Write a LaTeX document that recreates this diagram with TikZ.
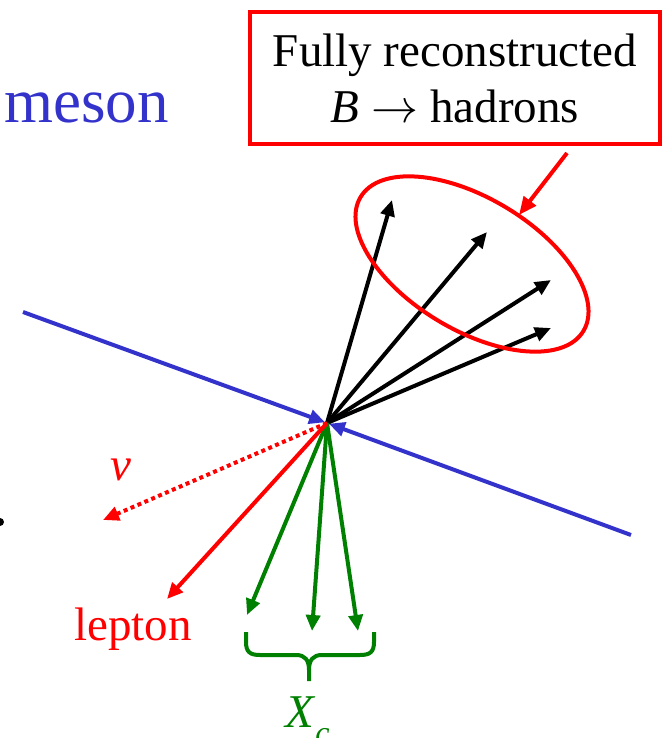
\RequirePackage{fix-cm}
\documentclass[tikz,border=0pt]{standalone}
\usepackage{fontspec}
\setmainfont{Liberation Serif}
\usetikzlibrary{arrows.meta}
\definecolor{myblue}{RGB}{51,51,204}
\definecolor{mygreen}{RGB}{0,128,0}
\definecolor{myred}{RGB}{255,0,0}
\begin{document}
\begin{tikzpicture}[x=1pt,y=-1pt,
  trk/.style={line width=4pt, -{Triangle[length=16pt,width=14pt]}},
  lbl/.style={inner sep=0pt, anchor=base},
  bigfont/.style={font=\fontsize{47}{56}\selectfont}]
\useasboundingbox (0,0) rectangle (664,738);
% coordinates
\coordinate (V) at (327,423);
\coordinate (BL) at (23,312);
\coordinate (BR) at (631,535);
\coordinate (T1) at (392,200);
\coordinate (T2) at (487,232);
\coordinate (T3) at (551,280);
\coordinate (T4) at (551,328);
\coordinate (G1) at (247,615);
\coordinate (G2) at (312,631);
\coordinate (G3) at (358,631);
\coordinate (L) at (167,599);
\coordinate (N) at (103,520);
\coordinate (E) at (472,264);
\coordinate (RS) at (567,153);
\coordinate (RE) at (519,215);
% blue beam line
\draw[trk, myblue, shorten >=2pt] (BL) -- (V);
\draw[trk, myblue, shorten >=2pt] (BR) -- (V);
% black tracks
\foreach \t in {T1,T2,T3,T4} \draw[trk, black] (V) -- (\t);
% green tracks
\foreach \t in {G1,G2,G3} \draw[trk, mygreen] (V) -- (\t);
% lepton and neutrino
\draw[trk, myred] (V) -- (L);
\draw[trk, myred, dash pattern=on 4pt off 3.5pt] (V) -- (N);
% ellipse
\draw[myred, line width=4pt, rotate around={-31:(E)}] (E) ellipse [x radius=130pt, y radius=66pt];
% box
\node[draw=myred, line width=4pt, minimum width=410pt, minimum height=132pt, inner sep=0pt,
      align=center, bigfont] (box) at (455,78) {Fully reconstructed\\\textit{B} \(\rightarrow\) hadrons};
\draw[trk, myred, -{Triangle[length=18pt,width=15pt]}] (RS) -- (RE);
% labels
\node[lbl, anchor=base west, text=myblue, font=\fontsize{63}{70}\selectfont] (meson) at (4,123) {meson};
\node[lbl, text=myred, bigfont] (nu) at (121,480) {\textit{v}};
\node[lbl, text=myred, bigfont] (lepton) at (133,640) {lepton};
\node[lbl, anchor=base west, text=mygreen, bigfont] (xc) at (285,727) {\textit{X}\raisebox{-16pt}{\fontsize{32}{32}\selectfont\itshape c}};
% brace
\draw[mygreen, line width=4pt, line join=round]
  (246,632) -- (246,642) .. controls (246,652) and (250,655) .. (260,655) -- (296,655)
  .. controls (305,655) and (309,660) .. (309,670) -- (309,681);
\draw[mygreen, line width=4pt, line join=round]
  (374,632) -- (374,642) .. controls (374,652) and (370,655) .. (360,655) -- (322,655)
  .. controls (313,655) and (309,660) .. (309,670);
% dot at left edge
\fill (0,522) circle[radius=4pt];
\end{tikzpicture}
\end{document}
